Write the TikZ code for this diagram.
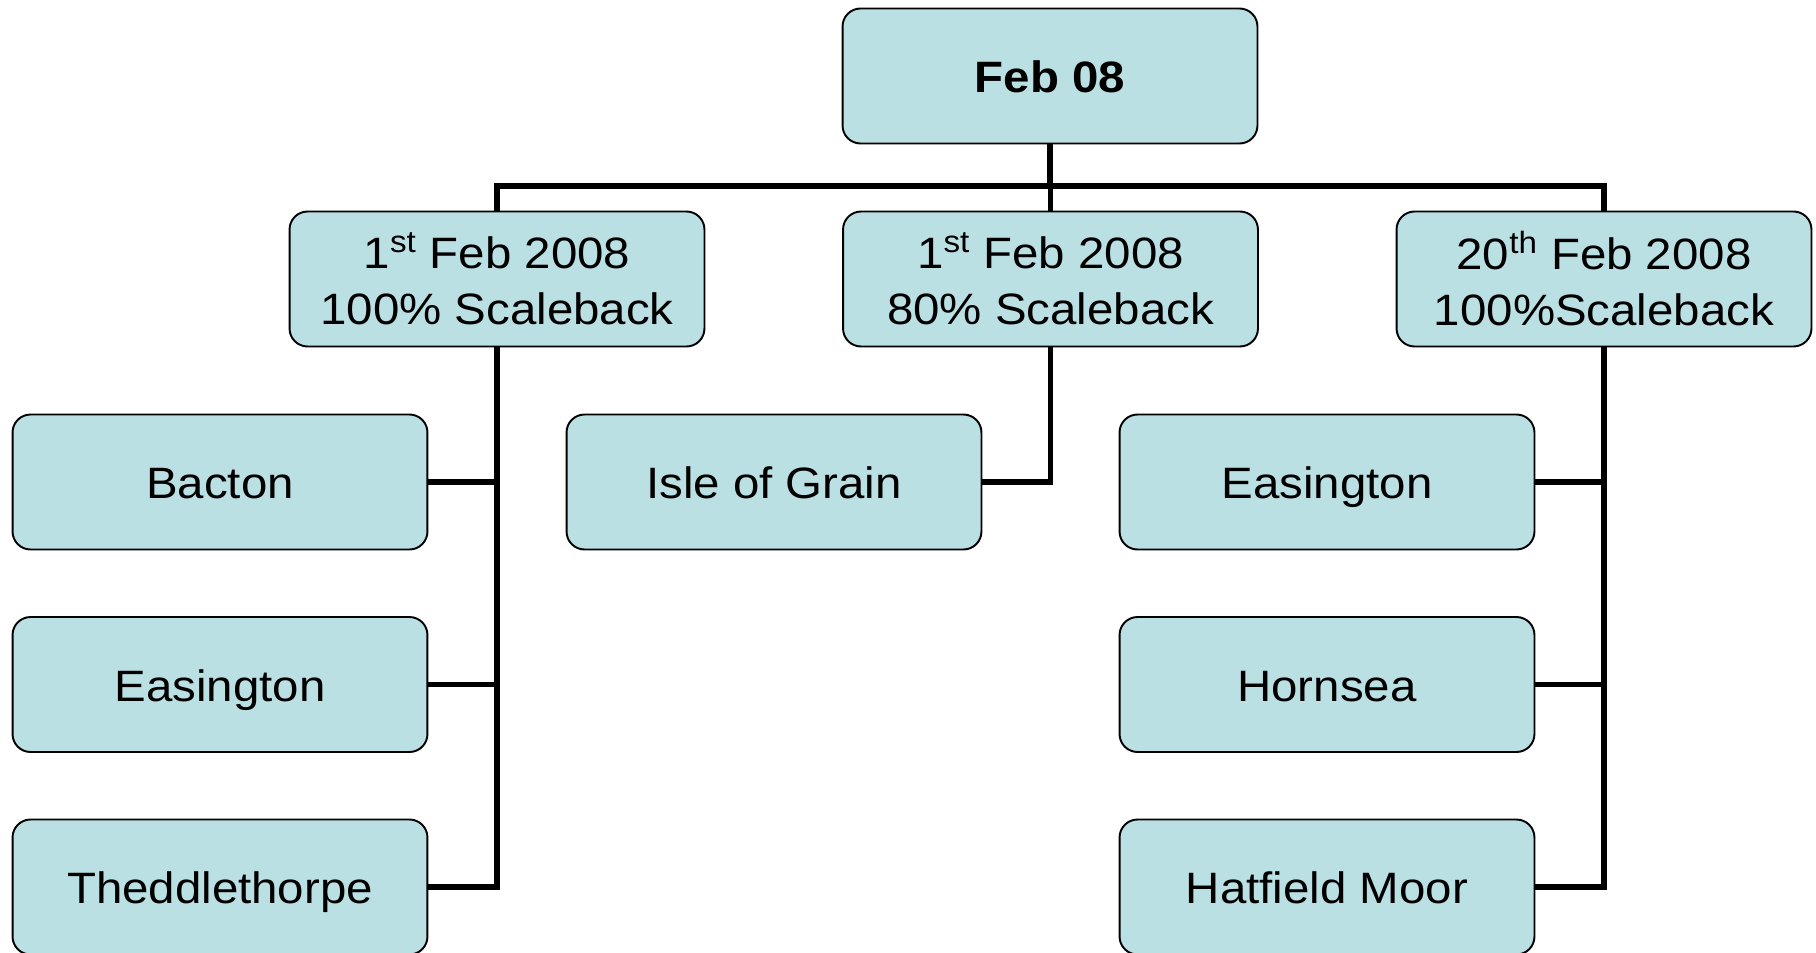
\documentclass[tikz,border=0pt]{standalone}
\usepackage{fontspec}
\setmainfont{Liberation Sans}[FakeStretch=1.08]
\usepackage{tikz}
\definecolor{boxfill}{HTML}{BBE0E3}
\tikzset{
	every box/.style={
		draw,
		fill=boxfill,
		line width=1.1pt,
		rounded corners=0.36cm,
		minimum width=8.3cm,
		minimum height=2.7cm,
		inner sep=0pt,
		align=center,
		font=\fontsize{25}{32}\selectfont },
	box one/.style={
		text height=19.3pt,
		text depth=0pt },
	box root/.style={
		font=\fontsize{25}{32}\selectfont\bfseries },
	link/.style={
		line width=3pt },
}

\begin{document}
\begin{tikzpicture}[x=0.02cm, y=-0.02cm]

		\useasboundingbox (0,0) rectangle (1816,953);

		\node [every box/.try, box root/.try, box one] (root) at (1050,76) {Feb 08};

		\foreach \t [count=\i] in {{1\textsuperscript{st} Feb 2008\\100\% Scaleback},
			{1\textsuperscript{st} Feb 2008\\80\% Scaleback},
			{20\textsuperscript{th} Feb 2008\\100\%Scaleback}}
		\node [every box/.try] (date-\i) at (497+553.5*\i-553.5,279) {\t};

		\foreach \s [count=\j] in {Bacton,Easington,Theddlethorpe}
		\node [every box/.try, box one] (site-1-\j) at (220,482+202.5*\j-202.5) {\s};

		\foreach \s [count=\j] in {Isle of Grain}
		\node [every box/.try, box one] (site-2-\j) at (774,482+202.5*\j-202.5) {\s};

		\foreach \s [count=\j] in {Easington,Hornsea,Hatfield Moor}
		\node [every box/.try, box one] (site-3-\j) at (1327,482+202.5*\j-202.5) {\s};

		\coordinate (bus) at (1050,186);

		\foreach \i in {1,...,3}
		\draw [link] (root.south) -- (root.south |- bus) -| (date-\i.north);

		\foreach \i/\n in {1/3,2/1,3/3}
		\foreach \j in {1,...,\n}
		\draw [link] (site-\i-\j.east) -| (date-\i.south);
	\end{tikzpicture}
\end{document}
